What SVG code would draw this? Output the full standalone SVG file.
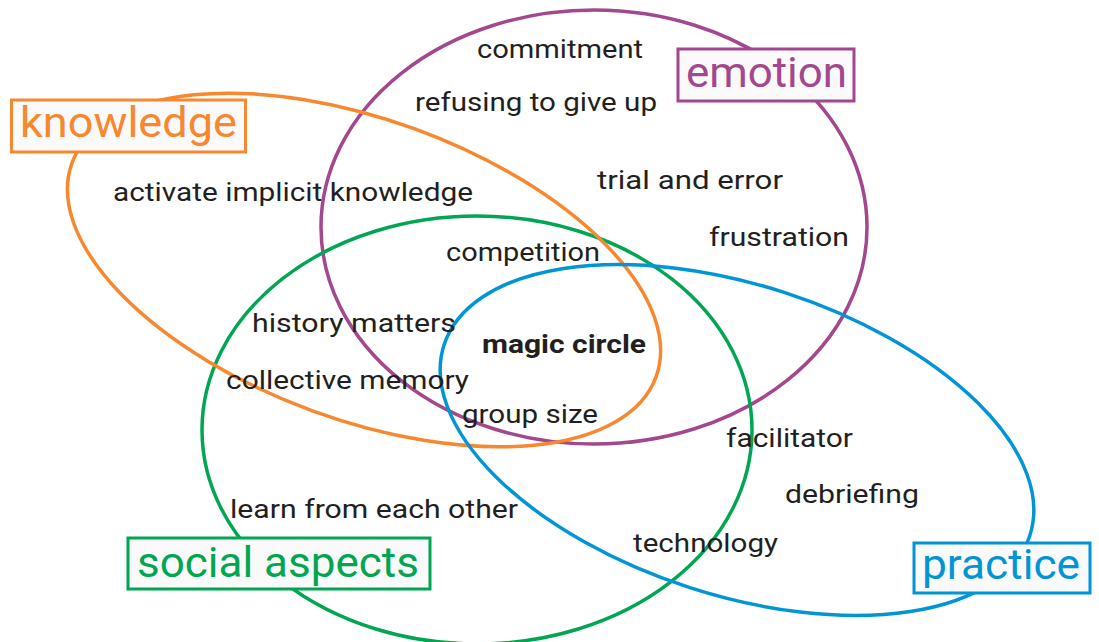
<svg xmlns="http://www.w3.org/2000/svg" width="1099" height="642" viewBox="0 0 1099 642">
<style>
.e{fill:none;stroke-width:3.5}
.t{font-family:Roboto,"Liberation Sans",sans-serif;font-size:26px;fill:#231f20}
.b{font-weight:bold}
.lb{stroke-width:3;fill:#fafafa}
.lt{font-family:Roboto,"Liberation Sans",sans-serif;font-size:43px}
</style>
<rect width="1099" height="642" fill="#ffffff"/>
<g id="ellipses">
<ellipse id="e-emotion" class="e" stroke="#a3478e" cx="594" cy="227" rx="273" ry="217"/>
<ellipse id="e-social" class="e" stroke="#00a651" cx="477" cy="430" rx="275" ry="214"/>
<ellipse id="e-knowledge" class="e" stroke="#f7882f" cx="364" cy="270" rx="311" ry="150" transform="rotate(20.1 364 270)"/>
<ellipse id="e-practice" class="e" stroke="#0096d6" cx="737" cy="440" rx="308" ry="155" transform="rotate(18 737 440)"/>
</g>
<g id="terms">
<text class="t" x="477" y="58" textLength="166" lengthAdjust="spacingAndGlyphs">commitment</text>
<text class="t" x="415" y="111" textLength="242" lengthAdjust="spacingAndGlyphs">refusing to give up</text>
<text class="t" x="113" y="201" textLength="360" lengthAdjust="spacingAndGlyphs">activate implicit knowledge</text>
<text class="t" x="597" y="189" textLength="186" lengthAdjust="spacingAndGlyphs">trial and error</text>
<text class="t" x="709" y="246" textLength="140" lengthAdjust="spacingAndGlyphs">frustration</text>
<text class="t" x="446" y="261" textLength="154" lengthAdjust="spacingAndGlyphs">competition</text>
<text class="t" x="252" y="332" textLength="204" lengthAdjust="spacingAndGlyphs">history matters</text>
<text class="t b" x="482" y="353" textLength="164" lengthAdjust="spacingAndGlyphs">magic circle</text>
<text class="t" x="226" y="389" textLength="243" lengthAdjust="spacingAndGlyphs">collective memory</text>
<text class="t" x="462" y="423" textLength="136" lengthAdjust="spacingAndGlyphs">group size</text>
<text class="t" x="726" y="447" textLength="127" lengthAdjust="spacingAndGlyphs">facilitator</text>
<text class="t" x="785" y="503" textLength="134" lengthAdjust="spacingAndGlyphs">debriefing</text>
<text class="t" x="230" y="518" textLength="288" lengthAdjust="spacingAndGlyphs">learn from each other</text>
<text class="t" x="633" y="552" textLength="145" lengthAdjust="spacingAndGlyphs">technology</text>
</g>
<g id="knowledge">
<rect class="lb" stroke="#f7882f" x="11.5" y="100" width="234" height="52"/>
<text class="lt" fill="#f7882f" x="20" y="137" textLength="217" lengthAdjust="spacingAndGlyphs">knowledge</text>
</g>
<g id="emotion">
<rect class="lb" stroke="#a3478e" x="678" y="49" width="176" height="52"/>
<text class="lt" fill="#a3478e" x="686" y="87" textLength="161" lengthAdjust="spacingAndGlyphs">emotion</text>
</g>
<g id="social-aspects">
<rect class="lb" stroke="#00a651" x="128" y="538" width="302" height="51"/>
<text class="lt" fill="#00a651" x="137" y="577" textLength="282" lengthAdjust="spacingAndGlyphs">social aspects</text>
</g>
<g id="practice">
<rect class="lb" stroke="#0096d6" x="914" y="543" width="176" height="50"/>
<text class="lt" fill="#0096d6" x="922" y="579" textLength="158" lengthAdjust="spacingAndGlyphs">practice</text>
</g>
</svg>
